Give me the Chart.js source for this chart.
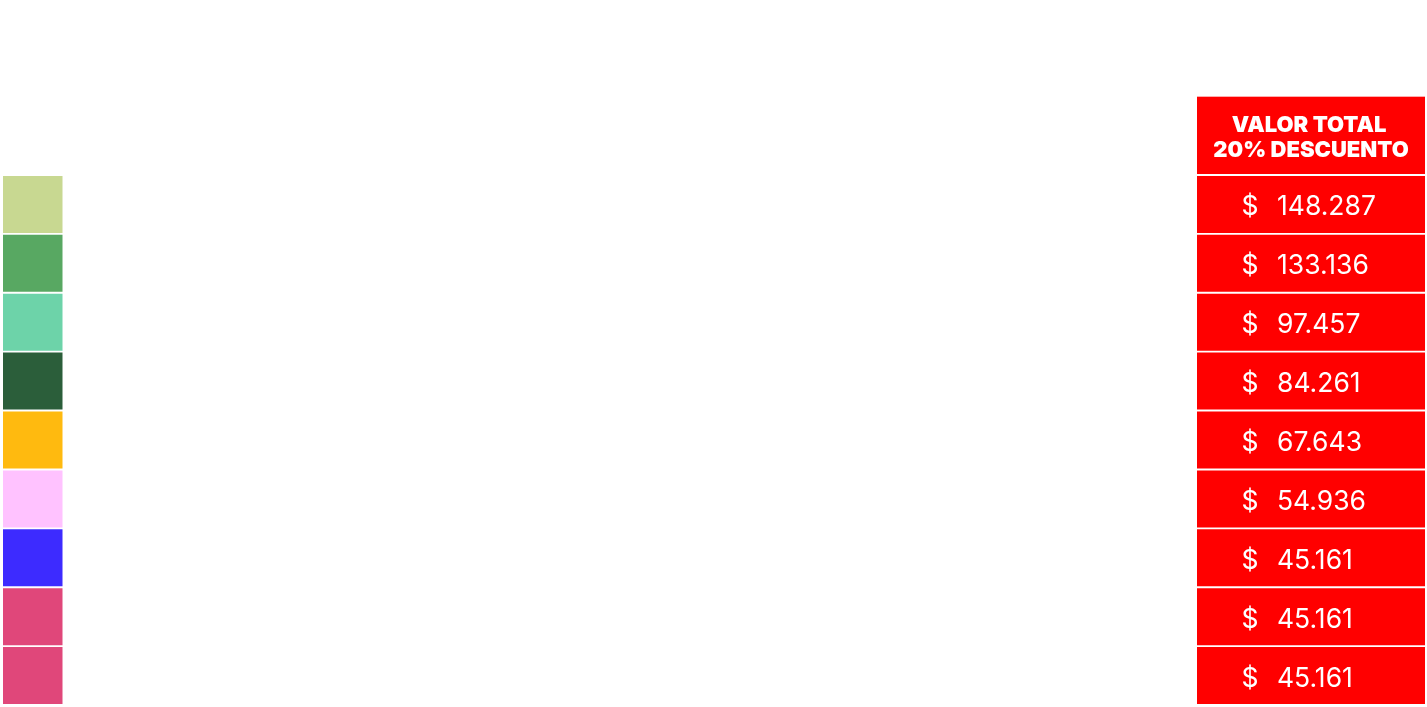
<!DOCTYPE html>
<html>
<head>
<meta charset="utf-8">
<script src="https://cdn.jsdelivr.net/npm/chart.js@4/dist/chart.umd.min.js"></script>
<style>
  html, body { margin: 0; padding: 0; background: #fff; }
  #tabla { display: block; }
</style>
</head>
<body>
<canvas id="tabla" width="1427" height="707"></canvas>
<script>
// rows of the table (one per colour swatch)
const rows = ['1', '2', '3', '4', '5', '6', '7', '8', '9'];
const swatchColors = ['#C8D891', '#58A862', '#6DD3A9', '#2B5E3A', '#FFBA0F', '#FFC2FF', '#3D2BFF', '#E0477A', '#E0477A'];
const totals = [148287, 133136, 97457, 84261, 67643, 54936, 45161, 45161, 45161];
const headerLines = ['VALOR TOTAL', '20% DESCUENTO'];

// column spans on the horizontal axis
const swatchSpan = [3, 62.5];
const totalSpan = [1197, 1425];

const fmt = n => n.toLocaleString('es-CL').replace(/,/g, '.');

// header cell + value labels drawn over the red column
const tableText = {
    id: 'tableText',
    afterDatasetsDraw(chart) {
        const c = chart.ctx;
        const x = chart.scales.x;
        const area = chart.chartArea;
        const x0 = x.getPixelForValue(totalSpan[0]);
        const x1 = x.getPixelForValue(totalSpan[1]);
        const cx = (x0 + x1) / 2;
        const rowH = area.height / rows.length;

        // header
        const hTop = area.top - rowH * 1.33;
        c.save();
        c.fillStyle = '#FF0000';
        c.fillRect(x0, hTop, x1 - x0, area.top - 1 - hTop);
        c.fillStyle = '#fff';
        c.font = '900 22px Inter';
        c.textAlign = 'center';
        c.textBaseline = 'middle';
        c.fillText(headerLines[0], cx - 2, hTop + 29);
        c.fillText(headerLines[1], cx, hTop + 54);

        // values
        const meta = chart.getDatasetMeta(1);
        c.font = '400 26.5px Inter';
        meta.data.forEach((bar, i) => {
            c.textAlign = 'center';
            c.fillText('$', x0 + 53, bar.y + 3);
            c.textAlign = 'left';
            c.fillText(fmt(totals[i]), x0 + 80, bar.y + 3);
        });
        c.restore();
    }
};

new Chart(document.getElementById('tabla').getContext('2d'), {
    type: 'bar',
    data: {
        labels: rows,
        datasets: [{
            label: 'color',
            data: rows.map(() => swatchSpan),
            backgroundColor: swatchColors,
            grouped: false,
            borderWidth: 0,
            barPercentage: 0.968,
            categoryPercentage: 1
        }, {
            label: 'valor total',
            data: rows.map(() => totalSpan),
            backgroundColor: '#FF0000',
            grouped: false,
            borderWidth: 0,
            barPercentage: 0.968,
            categoryPercentage: 1
        }]
    },
    options: {
        indexAxis: 'y',
        responsive: false,
        animation: false,
        layout: { padding: { top: 175, bottom: 2, left: 0, right: 0 } },
        scales: {
            x: { type: 'linear', min: 0, max: 1427, display: false },
            y: { display: false }
        },
        plugins: {
            legend: { display: false },
            tooltip: { enabled: false }
        }
    },
    plugins: [tableText]
});
</script>
</body>
</html>
